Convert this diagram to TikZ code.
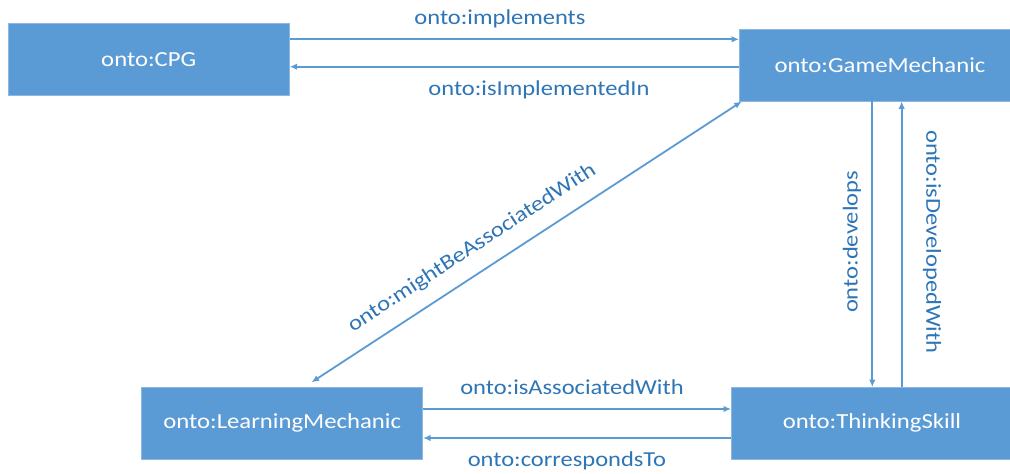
\documentclass[tikz,border=0pt]{standalone}
\usepackage{fontspec}
\setmainfont{Carlito}[FakeStretch=1.15]
\usetikzlibrary{arrows.meta}
\definecolor{boxblue}{HTML}{5B9BD5}
\definecolor{boxedge}{HTML}{8DB8E2}
\definecolor{lblblue}{HTML}{2E75B6}
\begin{document}
\begin{tikzpicture}[x=1pt,y=-1pt,
  entity/.style={draw=boxedge, line width=0.8pt, fill=boxblue,
    minimum width=281pt, minimum height=71.5pt, inner sep=0pt},
  etext/.style={text=white, font=\fontsize{21.5}{24}\selectfont, inner sep=0pt},
  rel/.style={draw=boxblue, line width=1.8pt, -{Latex[length=7.5pt,width=6.5pt]}},
  lbl/.style={text=lblblue, font=\fontsize{21.3}{24}\selectfont, inner sep=0pt}]
\useasboundingbox (0,0) rectangle (1010,474);
\begin{scope}
\clip (0,0) rectangle (1010,474);
\node[entity] (CPG) at (148.75,59.3) {};
\node[entity] (GM) at (880,65.2) {};
\node[entity] (LM) at (282.2,423.2) {};
\node[entity] (TS) at (872,423.2) {};
\end{scope}
\node[etext] (tCPG) at (148.75,59.3) {onto:CPG};
\node[etext] (tGM) at (880,65.2) {onto:GameMechanic};
\node[etext] (tLM) at (282.2,423.2) {onto:LearningMechanic};
\node[etext] (tTS) at (872,423.2) {onto:ThinkingSkill};
% top pair
\draw[rel] (CPG.east |- 0,39.3) -- (GM.west |- 0,39.3);
\draw[rel] (GM.west |- 0,66.7) -- (CPG.east |- 0,66.7);
% verticals
\draw[rel] (GM.south -| 872.3,0) -- (TS.north -| 872.3,0);
\draw[rel] (TS.north -| 901.7,0) -- (GM.south -| 901.7,0);
% bottom pair
\draw[rel] (LM.east |- 0,409) -- (TS.west |- 0,409);
\draw[rel] (TS.west |- 0,438) -- (LM.east |- 0,438);
% diagonal
\coordinate (dA) at (311.5,382.3);
\coordinate (dB) at (741.7,101.5);
\draw[rel, {Latex[length=7.5pt,width=6.5pt]}-{Latex[length=7.5pt,width=6.5pt]}] (dA) -- (dB);
% labels
\node[lbl] (l1) at (500,19) {onto:implements};
\node[lbl] (l2) at (539,90) {onto:isImplementedIn};
\node[lbl, rotate=33.1] (l3) at (472,248) {onto:mightBeAssociatedWith};
\node[lbl, rotate=90] (l4) at (852,242) {onto:develops};
\node[lbl, rotate=-90] (l5) at (932,242) {onto:isDevelopedWith};
\node[lbl] (l6) at (572,387) {onto:isAssociatedWith};
\node[lbl] (l7) at (567,461) {onto:correspondsTo};
\end{tikzpicture}
\end{document}
